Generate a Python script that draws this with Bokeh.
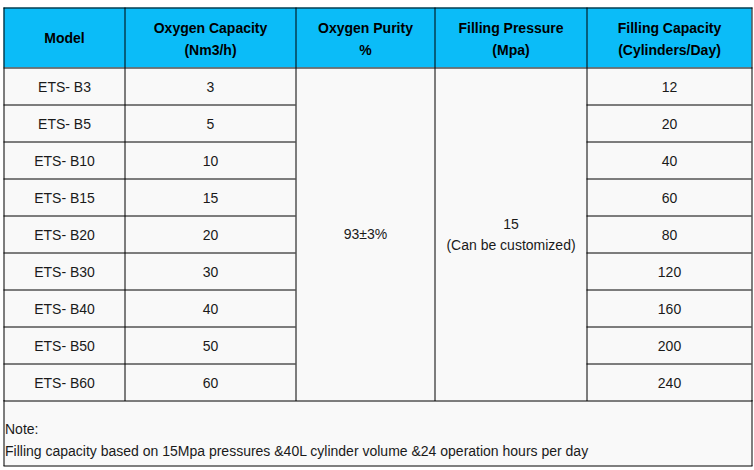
from bokeh.plotting import figure
from bokeh.models import Range1d, ColumnDataSource
from bokeh.core.properties import value
from bokeh.embed import file_html
from bokeh.resources import INLINE

# ---------------- data ----------------
headers_line1 = ["Model", "Oxygen Capacity", "Oxygen Purity", "Filling Pressure", "Filling Capacity"]
headers_line2 = ["", "(Nm3/h)", "%", "(Mpa)", "(Cylinders/Day)"]
models = ["ETS- B3", "ETS- B5", "ETS- B10", "ETS- B15", "ETS- B20",
          "ETS- B30", "ETS- B40", "ETS- B50", "ETS- B60"]
oxygen_capacity = [3, 5, 10, 15, 20, 30, 40, 50, 60]
filling_capacity = [12, 20, 40, 60, 80, 120, 160, 200, 240]
oxygen_purity = "93\u00b13%"
filling_pressure = "15"
filling_pressure_note = "(Can be customized)"
note_lines = ["Note:",
              "Filling capacity based on 15Mpa pressures &40L cylinder volume &24 operation hours per day"]

# ---------------- layout (pixels) ----------------
W, H = 754, 470
col_edges = [3, 124, 295, 434, 586, 751]
top = 7
header_h = 60
row_h = 37
bottom = 465
n = len(models)
body_top = top + header_h
body_bottom = body_top + n * row_h

FONT = value("Liberation Sans")
HEADER_BG = "#0bbcf8"
BODY_BG = "#f9f9f9"
LINE = "#000000"
TXT = "#1a1a1a"
FS = "14px"

p = figure(width=W, height=H, x_range=Range1d(0, W), y_range=Range1d(H, 0),
           output_backend="svg", toolbar_location=None, min_border=0,
           border_fill_color="white", background_fill_color="white")
p.margin = (0, 0, 0, 0)
p.xaxis.visible = False
p.yaxis.visible = False
p.xgrid.visible = False
p.ygrid.visible = False
p.outline_line_color = None

# backgrounds
p.quad(left=[col_edges[0]], right=[col_edges[-1]], top=[top], bottom=[body_top],
       fill_color=HEADER_BG, line_color=None)
p.quad(left=[col_edges[0]], right=[col_edges[-1]], top=[body_top], bottom=[bottom],
       fill_color=BODY_BG, line_color=None)

# grid lines
x0s, y0s, x1s, y1s = [], [], [], []
for x in col_edges:
    x0s.append(x + 0.5); x1s.append(x + 0.5); y0s.append(top); y1s.append(body_bottom + 0.5)
for x in (col_edges[0], col_edges[-1]):
    x0s.append(x + 0.5); x1s.append(x + 0.5); y0s.append(body_bottom); y1s.append(bottom + 0.5)
for y in (top, body_top, body_bottom, bottom):
    x0s.append(col_edges[0]); x1s.append(col_edges[-1] + 1); y0s.append(y + 0.5); y1s.append(y + 0.5)
for i in range(1, n):
    y = body_top + i * row_h + 0.5
    x0s.append(col_edges[0]); x1s.append(col_edges[2]); y0s.append(y); y1s.append(y)
    x0s.append(col_edges[4]); x1s.append(col_edges[5]); y0s.append(y); y1s.append(y)
p.segment(x0=x0s, y0=y0s, x1=x1s, y1=y1s, line_color=LINE, line_width=1)

# header text
cx = [(col_edges[i] + col_edges[i + 1]) / 2 + 0.5 for i in range(5)]
hx, hy, ht = [], [], []
for i in range(5):
    if headers_line2[i]:
        hx += [cx[i], cx[i]]
        hy += [top + 20.5, top + 42]
        ht += [headers_line1[i], headers_line2[i]]
    else:
        hx.append(cx[i]); hy.append(top + header_h / 2 + 0.5); ht.append(headers_line1[i])
p.text(x=hx, y=hy, text=ht, text_font=FONT, text_font_style="bold", text_font_size=FS,
       text_color="#000000", text_align="center", text_baseline="middle")

# body text
src = ColumnDataSource(dict(
    y=[body_top + (i + 0.5) * row_h + 0.5 for i in range(n)],
    model=models,
    cap=[str(v) for v in oxygen_capacity],
    fill=[str(v) for v in filling_capacity],
))
for key, x in (("model", cx[0]), ("cap", cx[1]), ("fill", cx[4])):
    p.text(x=x, y="y", text=key, source=src, text_font=FONT, text_font_size=FS,
           text_color=TXT, text_align="center", text_baseline="middle")

mid = (body_top + body_bottom) / 2
p.text(x=[cx[2]], y=[mid], text=[oxygen_purity], text_font=FONT, text_font_size=FS,
       text_color=TXT, text_align="center", text_baseline="middle")
p.text(x=[cx[3], cx[3]], y=[mid - 10.5, mid + 10.5], text=[filling_pressure, filling_pressure_note],
       text_font=FONT, text_font_size=FS, text_color=TXT, text_align="center", text_baseline="middle")

# note
p.text(x=[col_edges[0] + 1.5, col_edges[0] + 1.5], y=[body_bottom + 28.5, body_bottom + 50],
       text=note_lines, text_font=FONT, text_font_size=FS, text_color=TXT,
       text_align="left", text_baseline="middle")

open("out.html", "w").write(file_html(p, INLINE))
